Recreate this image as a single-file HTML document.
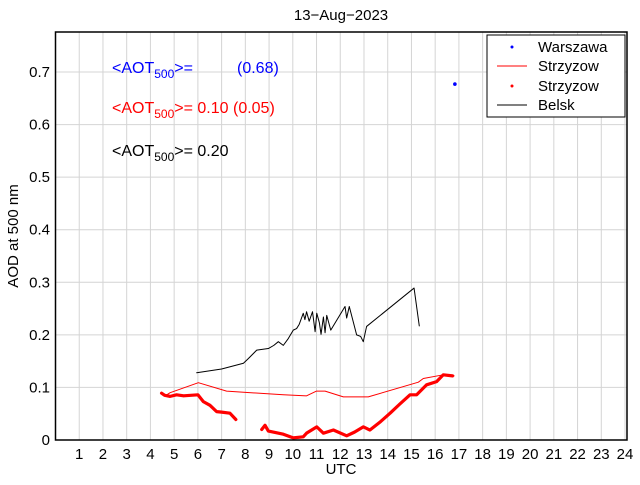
<!DOCTYPE html>
<html><head><meta charset="utf-8"><style>
body{margin:0;background:#fff;}
svg{font-family:"Liberation Sans",Arial,sans-serif;}
</style></head><body>
<svg id="c" width="640" height="480" viewBox="0 0 640 480">
<rect width="640" height="480" fill="#fff"/>
<g id="grid"></g>
<g id="series"></g>
<g id="axes"></g>
<text x="341" y="20" text-anchor="middle" font-size="15">13−Aug−2023</text>
<text x="341" y="474" text-anchor="middle" font-size="15">UTC</text>
<text transform="translate(18,236) rotate(-90)" text-anchor="middle" font-size="15">AOD at 500 nm</text>
<text x="112" y="73" font-size="16" fill="#0000ff">&lt;AOT<tspan font-size="12" dy="5">500</tspan><tspan dy="-5">&gt;=</tspan><tspan x="237">(0.68)</tspan></text>
<text x="112" y="113" font-size="16" fill="#ff0000">&lt;AOT<tspan font-size="12" dy="5">500</tspan><tspan dy="-5">&gt;= 0.10 (0.05)</tspan></text>
<text x="112" y="156" font-size="16" fill="#000">&lt;AOT<tspan font-size="12" dy="5">500</tspan><tspan dy="-5">&gt;= 0.20</tspan></text>
<g>
<rect x="487" y="35" width="138" height="82" fill="#fff" stroke="#000" stroke-width="1"/>
<circle cx="512" cy="47" r="1.5" fill="#0000ff"/>
<text x="538" y="52" font-size="15">Warszawa</text>
<line x1="497" y1="66" x2="527" y2="66" stroke="#ff0000" stroke-width="1"/>
<text x="538" y="71" font-size="15">Strzyzow</text>
<circle cx="512" cy="86" r="1.5" fill="#ff0000"/>
<text x="538" y="91" font-size="15">Strzyzow</text>
<line x1="497" y1="105" x2="527" y2="105" stroke="#000" stroke-width="1"/>
<text x="538" y="110" font-size="15">Belsk</text>
</g>
</svg>
<script>
const xTicks=[1,2,3,4,5,6,7,8,9,10,11,12,13,14,15,16,17,18,19,20,21,22,23,24];
const yTicks=[0,0.1,0.2,0.3,0.4,0.5,0.6,0.7];
const yTickLabels=["0","0.1","0.2","0.3","0.4","0.5","0.6","0.7"];
const belskX=[5.95,7.0,7.92,8.13,8.48,8.97,9.2,9.39,9.6,9.81,10.02,10.16,10.27,10.44,10.51,10.58,10.69,10.83,10.94,11.01,11.12,11.19,11.29,11.36,11.43,11.6,12.2,12.27,12.38,12.69,12.86,12.97,13.11,15.11,15.33];
const belskY=[0.128,0.135,0.146,0.155,0.171,0.174,0.18,0.187,0.18,0.193,0.209,0.212,0.22,0.241,0.229,0.244,0.226,0.244,0.206,0.241,0.223,0.201,0.234,0.204,0.237,0.209,0.254,0.232,0.254,0.2,0.197,0.187,0.216,0.289,0.217];
const strzLineX=[4.69,4.83,6.02,7.21,9.6,10.58,11.0,11.36,12.13,13.18,15.29,15.5,16.34,16.8];
const strzLineY=[0.086,0.09,0.109,0.093,0.086,0.084,0.093,0.093,0.082,0.082,0.11,0.117,0.124,0.122];
const strzDots1X=[4.47,4.6,4.83,5.1,5.4,5.7,6.0,6.23,6.51,6.79,7.0,7.35,7.6];
const strzDots1Y=[0.089,0.085,0.083,0.086,0.084,0.085,0.086,0.073,0.066,0.054,0.053,0.051,0.039];
const strzDots2X=[8.69,8.83,8.97,9.3,9.6,10.02,10.44,10.58,11.01,11.29,11.71,12.27,12.6,12.97,13.25,13.7,14.1,14.5,14.94,15.22,15.64,16.06,16.34,16.73];
const strzDots2Y=[0.02,0.028,0.017,0.014,0.011,0.004,0.006,0.013,0.025,0.013,0.019,0.008,0.015,0.025,0.019,0.035,0.051,0.068,0.086,0.086,0.105,0.111,0.124,0.122];
const warX=[16.83];
const warY=[0.677];

const L=55.5,R=627,T=32,B=440;
const xs=h=>L+h*23.73;
const ys=v=>B-v*525.7;
const NS="http://www.w3.org/2000/svg";
function mk(tag,parent){const e=document.createElementNS(NS,tag);document.getElementById(parent).appendChild(e);return e;}
xTicks.forEach(t=>{
  const g=mk('line','grid');
  
  
  g.setAttribute('x1',xs(t));g.setAttribute('x2',xs(t));g.setAttribute('y1',T);g.setAttribute('y2',B);
  g.setAttribute('stroke','#d4d4d4');g.setAttribute('stroke-width','1');
  const tx=mk('text','axes');
  
  
  tx.setAttribute('x',xs(t));tx.setAttribute('y',459);tx.setAttribute('text-anchor','middle');tx.setAttribute('font-size','15');
  tx.textContent=t;
});
yTicks.forEach((t,i)=>{
  const g=mk('line','grid');
  
  
  g.setAttribute('x1',L);g.setAttribute('x2',R);g.setAttribute('y1',ys(t));g.setAttribute('y2',ys(t));
  g.setAttribute('stroke','#d4d4d4');g.setAttribute('stroke-width','1');
  const tx=mk('text','axes');
  
  
  tx.setAttribute('x',50);tx.setAttribute('y',ys(t)+5);tx.setAttribute('text-anchor','end');tx.setAttribute('font-size','15');
  tx.textContent=yTickLabels[i];
});
const fr=mk('rect','axes');


fr.setAttribute('x',L);fr.setAttribute('y',T);fr.setAttribute('width',R-L);fr.setAttribute('height',B-T);
fr.setAttribute('fill','none');fr.setAttribute('stroke','#000');fr.setAttribute('stroke-width','1.5');
function poly(X,Y,color,w,name){
  const p=mk('polyline','series');
  
  
  p.setAttribute('points',X.map((x,i)=>xs(x)+','+ys(Y[i])).join(' '));
  p.setAttribute('fill','none');p.setAttribute('stroke',color);p.setAttribute('stroke-width',w);
  p.setAttribute('stroke-linejoin','round');p.setAttribute('stroke-linecap','round');
}
poly(strzLineX,strzLineY,'#ff0000',1,'strzyzow-line');
poly(strzDots1X,strzDots1Y,'#ff0000',3.2,'strzyzow-dots-morning');
poly(strzDots2X,strzDots2Y,'#ff0000',3.2,'strzyzow-dots-afternoon');
poly(belskX,belskY,'#000',1,'belsk-line');
warX.forEach((x,i)=>{
  const c=mk('circle','series');
  
  
  c.setAttribute('cx',xs(x));c.setAttribute('cy',ys(warY[i]));c.setAttribute('r','1.8');c.setAttribute('fill','#0000ff');
});
</script>
</body></html>
